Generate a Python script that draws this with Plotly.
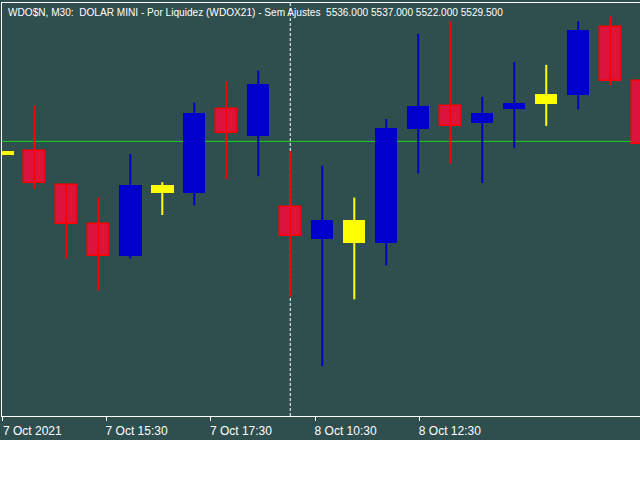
import plotly.graph_objects as go

# WDO$N M30 candles (index = bar position)
opens = [5528.8, 5528.8, 5525.3, 5521.3, 5518.0, 5524.5, 5524.5, 5533.1, 5530.4, 5523.0,
         5519.7, 5521.7, 5519.3, 5531.1, 5533.5, 5531.7, 5533.1, 5533.7, 5534.6, 5541.6, 5536.0]
highs = [5528.8, 5533.5, 5525.3, 5524.0, 5528.5, 5525.6, 5533.8, 5536.0, 5537.1, 5528.8,
         5527.3, 5524.0, 5532.1, 5540.9, 5542.2, 5534.4, 5538.0, 5537.7, 5542.2, 5542.7, 5537.0]
lows = [5528.4, 5524.9, 5517.7, 5514.4, 5517.7, 5522.2, 5523.2, 5525.9, 5526.2, 5513.8,
        5506.6, 5513.5, 5517.0, 5526.5, 5527.5, 5525.5, 5529.1, 5531.4, 5533.1, 5535.6, 5522.0]
closes = [5528.4, 5525.5, 5521.3, 5518.0, 5525.3, 5525.3, 5532.7, 5530.7, 5535.7, 5520.0,
          5521.7, 5519.3, 5531.2, 5533.5, 5531.4, 5532.7, 5533.8, 5534.7, 5541.3, 5536.0, 5529.5]
kinds = ["neutral", "bear", "bear", "bear", "bull", "neutral", "bull", "bear", "bull", "bear",
         "bull", "neutral", "bull", "bull", "bear", "bull", "bull", "neutral", "bull", "bear", "bear"]

tick_pos = [0, 3.26, 6.52, 9.79, 13.05]
tick_text = ["7 Oct 2021", "7 Oct 15:30", "7 Oct 17:30", "8 Oct 10:30", "8 Oct 12:30"]

price_line = 5529.8
day_sep = 9
title = ("WDO$N, M30:  DOLAR MINI - Por Liquidez (WDOX21) - Sem Ajustes  "
         "5536.000 5537.000 5522.000 5529.500")

BG = "#2F4F4F"
FONT = "Liberation Sans, Arial"
styles = {
    "bear": dict(fill="#DC143C", wick="#FF0000", edge="#FF0000", width=0.65, lw=1.5),
    "bull": dict(fill="#0000CD", wick="#0000CD", edge="#0000CD", width=0.70, lw=0),
    "neutral": dict(fill="#FFFF00", wick="#FFFF00", edge="#FFFF00", width=0.70, lw=0),
}

fig = go.Figure()

for kind, st in styles.items():
    idx = [i for i, k in enumerate(kinds) if k == kind]
    wx, wy = [], []
    for i in idx:
        wx += [i, i, None]
        wy += [lows[i], highs[i], None]
    fig.add_trace(go.Scatter(x=wx, y=wy, mode="lines",
                             line=dict(color=st["wick"], width=2),
                             hoverinfo="skip", showlegend=False))
    fig.add_trace(go.Bar(
        x=idx,
        y=[abs(closes[i] - opens[i]) for i in idx],
        base=[min(opens[i], closes[i]) for i in idx],
        width=st["width"],
        marker=dict(color=st["fill"], line=dict(color=st["edge"], width=st["lw"])),
        showlegend=False,
    ))

fig.add_hline(y=price_line, line=dict(color="#1ED21E", width=1), layer="below")
fig.add_vline(x=day_sep, line=dict(color="white", width=1, dash="3px,2px"), layer="below")

# white strip under the chart window
fig.add_shape(type="rect", xref="paper", yref="paper",
              x0=-0.01, x1=1.01, y0=-64 / 413, y1=-24 / 413,
              fillcolor="white", line=dict(width=0), layer="above")

fig.add_annotation(text=title, xref="paper", yref="paper",
                   x=4 / 638, y=1 - 9 / 413, xanchor="left", yanchor="middle",
                   showarrow=False,
                   font=dict(family=FONT, size=10.1, color="white"))

fig.update_layout(
    width=640, height=480,
    margin=dict(l=2, r=0, t=3, b=64),
    paper_bgcolor=BG, plot_bgcolor=BG,
    barmode="overlay", bargap=0,
    showlegend=False,
    font=dict(family=FONT, size=12, color="white"),
)
fig.update_xaxes(range=[-0.01, 19.93], showgrid=False, zeroline=False,
                 showline=True, mirror=True, linecolor="white", linewidth=1,
                 ticks="outside", ticklen=4, tickcolor="white",
                 tickvals=tick_pos, ticktext=tick_text,
                 ticklabelshift=30)
fig.update_yaxes(range=[5501.46, 5544.08], showgrid=False, zeroline=False,
                 showline=True, linecolor="white", linewidth=1,
                 showticklabels=False, ticks="")

fig.write_html("out.html", config={"displayModeBar": False},
               post_script="document.body.style.margin='0';")
